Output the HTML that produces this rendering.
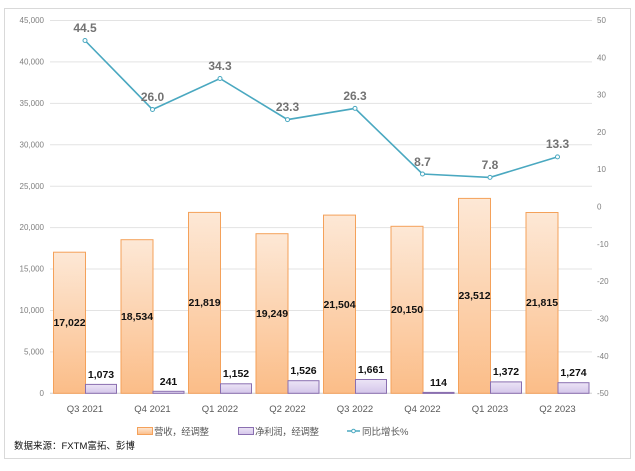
<!DOCTYPE html>
<html><head><meta charset="utf-8"><style>
body{margin:0;background:#fff;}
svg{display:block;font-family:"Liberation Sans","Noto Sans CJK SC",sans-serif;}
</style></head><body>
<svg width="635" height="471" viewBox="0 0 635 471" xmlns="http://www.w3.org/2000/svg">
<defs>
<linearGradient id="og" x1="0" y1="0" x2="0" y2="1"><stop offset="0" stop-color="#fde8d6"/><stop offset="1" stop-color="#fbbd88"/></linearGradient>
<linearGradient id="pg" x1="0" y1="0" x2="0" y2="1"><stop offset="0" stop-color="#ece4f6"/><stop offset="1" stop-color="#d4c6ea"/></linearGradient>
</defs>
<rect x="4.5" y="8.5" width="626" height="450" fill="#fff" stroke="#d9d9d9"/>
<g stroke="#e3e3e3" stroke-width="1">
<line x1="50" x2="592" y1="20.5" y2="20.5"/><line x1="50" x2="592" y1="61.9" y2="61.9"/><line x1="50" x2="592" y1="103.4" y2="103.4"/><line x1="50" x2="592" y1="144.8" y2="144.8"/><line x1="50" x2="592" y1="186.2" y2="186.2"/><line x1="50" x2="592" y1="227.6" y2="227.6"/><line x1="50" x2="592" y1="269" y2="269"/><line x1="50" x2="592" y1="310.5" y2="310.5"/><line x1="50" x2="592" y1="351.9" y2="351.9"/>
</g>
<line x1="50" x2="592" y1="393.3" y2="393.3" stroke="#d0d0d0"/>
<g font-size="8" fill="#7f7f7f" text-anchor="end">
<text x="44" y="23">45,000</text><text x="44" y="64.5">40,000</text><text x="44" y="106">35,000</text><text x="44" y="147.5">30,000</text><text x="44" y="189">25,000</text><text x="44" y="230">20,000</text><text x="44" y="271.5">15,000</text><text x="44" y="313">10,000</text><text x="44" y="354.5">5,000</text><text x="44" y="396">0</text>
</g>
<g font-size="8" fill="#7f7f7f" text-anchor="start">
<text x="597" y="23">50</text><text x="597" y="60.5">40</text><text x="597" y="97.5">30</text><text x="597" y="135">20</text><text x="597" y="172">10</text><text x="597" y="209.5">0</text><text x="597" y="247">-10</text><text x="597" y="284">-20</text><text x="597" y="321.5">-30</text><text x="597" y="359">-40</text><text x="597" y="396">-50</text>
</g>
<g stroke="#f4a15a" stroke-width="1" fill="url(#og)">
<rect x="53.5" y="252.2" width="32" height="141.1"/>
<rect x="121" y="239.7" width="32" height="153.6"/>
<rect x="188.5" y="212.4" width="32" height="180.9"/>
<rect x="256" y="233.7" width="32" height="159.6"/>
<rect x="323.5" y="215.1" width="32" height="178.2"/>
<rect x="391" y="226.3" width="32" height="167"/>
<rect x="458.5" y="198.4" width="32" height="194.9"/>
<rect x="526" y="212.5" width="32" height="180.8"/>
</g>
<g stroke="#8a6fb0" stroke-width="1" fill="url(#pg)">
<rect x="85.5" y="384.4" width="31" height="8.9"/>
<rect x="153" y="391.3" width="31" height="2"/>
<rect x="220.5" y="383.8" width="31" height="9.5"/>
<rect x="288" y="380.7" width="31" height="12.6"/>
<rect x="355.5" y="379.5" width="31" height="13.8"/>
<rect x="423" y="392.4" width="31" height="1"/>
<rect x="490.5" y="381.9" width="31" height="11.4"/>
<rect x="558" y="382.7" width="31" height="10.6"/>
</g>
<g font-size="10.5" font-weight="bold" fill="#111" text-anchor="middle">
<text x="69.5" y="326">17,022</text><text x="137" y="320">18,534</text><text x="204.5" y="306">21,819</text><text x="272" y="317">19,249</text><text x="339.5" y="308">21,504</text><text x="407" y="313">20,150</text><text x="474.5" y="299">23,512</text><text x="542" y="306">21,815</text>
<text x="101" y="378">1,073</text><text x="168.5" y="385">241</text><text x="236" y="377">1,152</text><text x="303.5" y="374">1,526</text><text x="371" y="373">1,661</text><text x="438.5" y="386">114</text><text x="506" y="375">1,372</text><text x="573.5" y="376">1,274</text>
</g>
<polyline fill="none" stroke="#4aa8c0" stroke-width="1.6" points="85,40.5 152.5,109.5 220,78.5 287.5,119.6 355,108.4 422.5,174 490,177.4 557.5,156.9"/>
<g fill="#fff" stroke="#4aa8c0" stroke-width="1">
<circle cx="85" cy="40.5" r="2"/><circle cx="152.5" cy="109.5" r="2"/><circle cx="220" cy="78.5" r="2"/><circle cx="287.5" cy="119.6" r="2"/><circle cx="355" cy="108.4" r="2"/><circle cx="422.5" cy="174" r="2"/><circle cx="490" cy="177.4" r="2"/><circle cx="557.5" cy="156.9" r="2"/>
</g>
<g font-size="12" font-weight="bold" fill="#737373" text-anchor="middle">
<text x="85" y="32">44.5</text><text x="152.5" y="101">26.0</text><text x="220" y="70">34.3</text><text x="287.5" y="111">23.3</text><text x="355" y="100">26.3</text><text x="422.5" y="166">8.7</text><text x="490" y="169">7.8</text><text x="557.5" y="148">13.3</text>
</g>
<g font-size="9.5" fill="#595959" text-anchor="middle">
<text x="85" y="412">Q3 2021</text><text x="152.5" y="412">Q4 2021</text><text x="220" y="412">Q1 2022</text><text x="287.5" y="412">Q2 2022</text><text x="355" y="412">Q3 2022</text><text x="422.5" y="412">Q4 2022</text><text x="490" y="412">Q1 2023</text><text x="557.5" y="412">Q2 2023</text>
</g>
<rect x="137.5" y="427.5" width="15" height="7" fill="url(#og)" stroke="#f4a15a"/>
<text x="154" y="435" font-size="9.5" fill="#595959" textLength="55">营收，经调整</text>
<rect x="238.5" y="427.5" width="15" height="7" fill="url(#pg)" stroke="#8a6fb0"/>
<text x="255" y="435" font-size="9.5" fill="#595959" textLength="64">净利润，经调整</text>
<line x1="347" x2="360" y1="431" y2="431" stroke="#4aa8c0" stroke-width="1.5"/>
<circle cx="353.5" cy="431" r="1.8" fill="#fff" stroke="#4aa8c0"/>
<text x="362" y="435" font-size="9.5" fill="#595959">同比增长%</text>
<text x="14" y="449" font-size="9.5" fill="#111">数据来源：FXTM富拓、彭博</text>
</svg>
</body></html>
